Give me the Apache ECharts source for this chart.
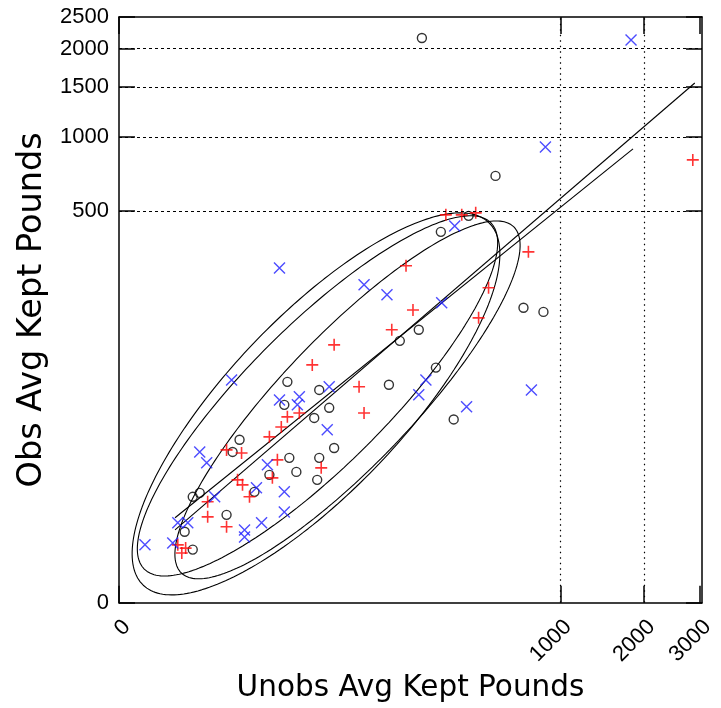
<!DOCTYPE html>
<html>
<head>
<meta charset="utf-8">
<script src="https://cdn.jsdelivr.net/npm/echarts@6/dist/echarts.min.js"></script>
<style>
  html, body { margin: 0; padding: 0; background: #fff; }
  #chart { width: 721px; height: 708px; }
</style>
</head>
<body>
<div id="chart"></div>
<script>
// Tick values (pounds) on each axis
const xTickValues = [0, 1000, 2000, 3000];
const yTickValues = [0, 500, 1000, 1500, 2000, 2500];
const xGridValues = [1000, 2000];
const yGridValues = [500, 1000, 1500, 2000];

// Unobserved vs observed average kept pounds, one array per group
const circleGroup = [
  [222, 2160], [530, 705], [394, 476], [283, 402], [706, 161], [856, 152],
  [213, 118], [164, 100], [266, 65], [140, 48], [331, 24], [21.2, 50.6],
  [42.4, 43.6], [51.5, 30.7], [19.7, 32.6], [38.3, 24.8], [5.57, 15.0],
  [4.39, 11.0], [22.2, 9.37], [26.1, 6.24], [42.4, 9.37], [56.5, 12.2],
  [40.7, 4.85], [13.5, 5.69], [8.88, 3.22], [1.12, 3.10], [0.78, 2.68],
  [3.53, 1.27], [0.49, 0.54], [0.78, 0.17]
];
const plusGroup = [
  [2859, 817], [301, 481], [364, 481], [427, 491], [741, 322], [179, 274],
  [197, 156], [146, 118], [492, 209], [441, 140], [56.5, 94], [36.8, 68],
  [87.6, 46.2], [95.1, 27.6], [21.2, 25.4], [27.9, 27.6], [18.3, 20.3],
  [13.5, 16.1], [3.53, 11.6], [5.95, 10.7], [16.6, 8.87], [14.6, 5.18],
  [5.21, 4.85], [6.14, 4.11], [7.65, 2.68], [1.63, 2.21], [1.63, 1.16],
  [3.53, 0.71], [44.1, 7.04], [0.315, 0.24], [0.41, 0.13], [0.52, 0.19]
];
const crossGroup = [
  [1813, 2131], [872, 917], [335, 428], [286, 172], [763, 43.6], [234, 52.4],
  [213, 39.7], [385, 31.3], [17.5, 267], [95.1, 217], [136, 191], [4.24, 52.4],
  [17.5, 36], [27.9, 38.2], [26.7, 32.6], [51.5, 46.2], [49.6, 19.0],
  [12.8, 7.69], [9.42, 3.71], [2.21, 2.68], [19.7, 3.22], [19.7, 1.45],
  [10.9, 0.87], [6.55, 0.60], [6.55, 0.40], [1.12, 11.0], [1.56, 8.15],
  [0.315, 0.87], [0.59, 0.87], [0.012, 0.24], [0.22, 0.27]
];

// Fitted lines: start and end points (pounds)
const fitLineA = [[0.26, 0.60], [2899, 1550]];
const fitLineB = [[0.26, 1.11], [1841, 901]];

// Concentration ellipses in fourth-root units:
// centre, half-length vector and half-width vector
const ellipseOuter = { c: [2.5105, 2.4013], u: [2.2014, 2.1891], v: [-0.8029, 0.7240] };
const ellipseUpper = { c: [2.5296, 2.4979], u: [2.2077, 2.0905], v: [-0.6308, 0.5973] };
const ellipseRight = { c: [2.9120, 2.4496], u: [2.1168, 2.0904], v: [-0.5979, 0.5429] };

// Fourth-root scale used on both axes
const root = v => Math.pow(Math.max(v, 0), 0.25);
const unroot = t => Math.pow(t, 4);
const toRoot = pts => pts.map(p => [root(p[0]), root(p[1])]);

const X_MAX = root(3047);
const Y_MAX = root(2500);

// Outline of an ellipse given in root units
function outline(e, steps) {
  const pts = [];
  for (let i = 0; i <= steps; i++) {
    const f = i / steps * 2 * Math.PI;
    const cf = Math.cos(f), sf = Math.sin(f);
    pts.push([e.c[0] + cf * e.u[0] + sf * e.v[0], e.c[1] + cf * e.u[1] + sf * e.v[1]]);
  }
  return pts;
}

const tickFont = { fontFamily: 'Liberation Sans', fontSize: 22, color: '#000' };
const axisLineStyle = { color: '#000', width: 1.5 };
const tickLine = { color: '#000', width: 1.5 };

function boxAxis(extra) {
  return Object.assign({
    type: 'value',
    min: 0,
    axisLine: { show: true, onZero: false, lineStyle: axisLineStyle },
    splitLine: { show: false },
    axisLabel: { show: false }
  }, extra);
}

const chart = echarts.init(document.getElementById('chart'), null, { renderer: 'canvas' });

const thinBlack = { color: '#000', width: 1.1 };

const series = [
  {
    type: 'scatter',
    data: toRoot(circleGroup),
    symbol: 'circle',
    symbolSize: 9,
    itemStyle: { color: 'rgba(0,0,0,0)', borderColor: '#000', borderWidth: 1.4 },
    silent: true,
    z: 4,
    markLine: {
      silent: true,
      symbol: 'none',
      label: { show: false },
      animation: false,
      data: yGridValues.map(v => ({ yAxis: root(v), lineStyle: { color: '#000', width: 1.2, type: [3, 3] } }))
        .concat(xGridValues.map(v => ({ xAxis: root(v), lineStyle: { color: '#000', width: 1.2, type: [1.5, 4] } })))
    }
  },
  {
    type: 'scatter',
    data: toRoot(plusGroup),
    symbol: 'path://M5,0L5,10M0,5L10,5',
    symbolSize: 12,
    itemStyle: { color: 'rgba(0,0,0,0)', borderColor: '#ff0000', borderWidth: 1.6 },
    silent: true,
    z: 4
  },
  {
    type: 'scatter',
    data: toRoot(crossGroup),
    symbol: 'path://M0,0L10,10M10,0L0,10',
    symbolSize: 11,
    itemStyle: { color: 'rgba(0,0,0,0)', borderColor: '#1f1fff', borderWidth: 1.4 },
    silent: true,
    z: 4
  },
  { type: 'line', data: toRoot(fitLineA), showSymbol: false, silent: true, lineStyle: thinBlack, z: 3 },
  { type: 'line', data: toRoot(fitLineB), showSymbol: false, silent: true, lineStyle: thinBlack, z: 3 }
].concat([ellipseOuter, ellipseUpper, ellipseRight].map(e => ({
  type: 'line',
  data: outline(e, 240),
  showSymbol: false,
  silent: true,
  lineStyle: thinBlack,
  z: 3
})));

chart.setOption({
  animation: false,
  backgroundColor: '#fff',
  grid: { left: 119, top: 17, width: 583, height: 586 },
  xAxis: [
    boxAxis({
      position: 'bottom',
      max: X_MAX,
      axisTick: { show: true, inside: true, length: 17, customValues: xTickValues.map(root), lineStyle: tickLine },
      axisLabel: {
        show: true, rotate: 45, margin: 13, verticalAlign: 'top',
        customValues: xTickValues.map(root),
        formatter: t => String(Math.round(unroot(t))),
        ...tickFont
      },
      name: 'Unobs Avg Kept Pounds',
      nameLocation: 'middle',
      nameGap: 69,
      nameTextStyle: { fontFamily: 'DejaVu Sans', fontSize: 29.5, color: '#000' }
    }),
    boxAxis({
      position: 'top',
      max: X_MAX,
      axisTick: { show: true, inside: true, length: 17, customValues: xTickValues.map(root), lineStyle: tickLine }
    })
  ],
  yAxis: [
    boxAxis({
      position: 'left',
      max: Y_MAX,
      axisTick: { show: true, inside: true, length: 16, customValues: yTickValues.map(root), lineStyle: tickLine },
      axisLabel: {
        show: true, margin: 10,
        customValues: yTickValues.map(root),
        formatter: t => String(Math.round(unroot(t))),
        ...tickFont
      },
      name: 'Obs Avg Kept Pounds',
      nameLocation: 'middle',
      nameGap: 63,
      nameTextStyle: { fontFamily: 'DejaVu Sans', fontSize: 33.5, color: '#000' }
    }),
    boxAxis({
      position: 'right',
      max: Y_MAX,
      axisTick: { show: true, inside: true, length: 16, customValues: yTickValues.map(root), lineStyle: tickLine }
    })
  ],
  series: series
});
</script>
</body>
</html>
